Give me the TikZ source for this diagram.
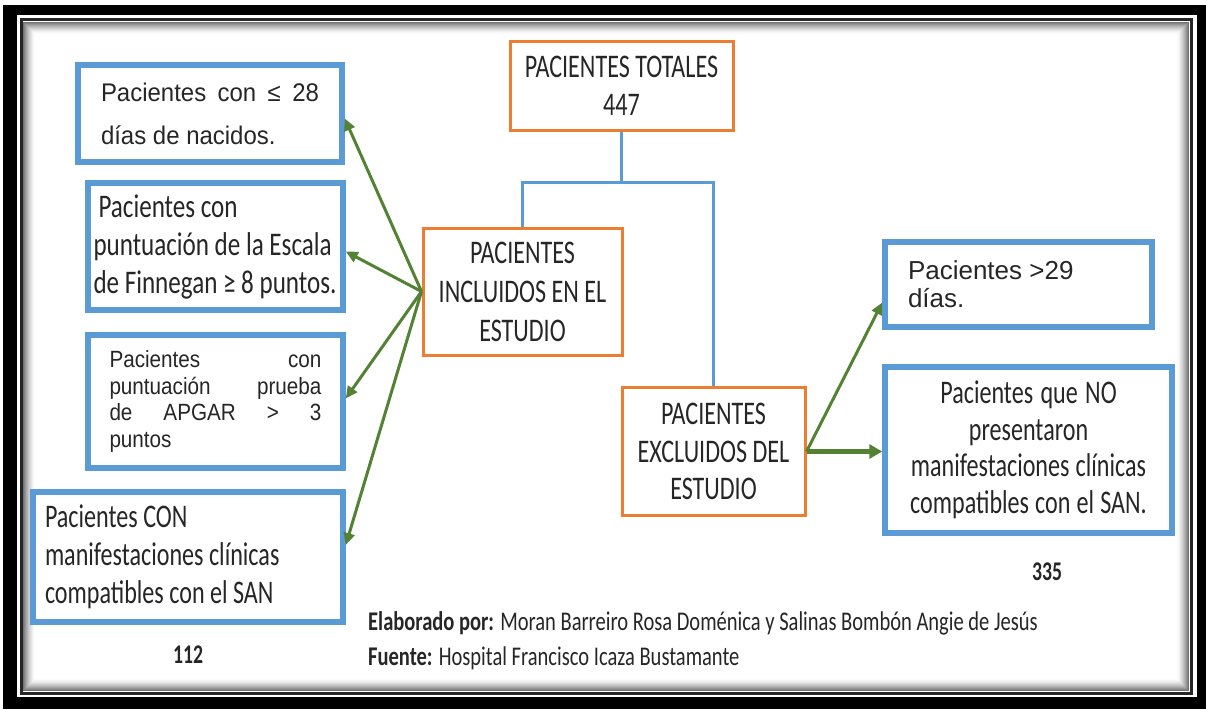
\documentclass[tikz,border=0pt]{standalone}
\usepackage{fontspec}
\setmainfont{Carlito}
\newfontfamily\fcal[FakeStretch=0.73]{Carlito}
\newfontfamily\fcalW[FakeStretch=0.76]{Carlito}
\newfontfamily\ffoot[FakeStretch=0.76]{Carlito}
\newfontfamily\fariA[FakeStretch=0.94]{Liberation Sans}
\newfontfamily\fariB[FakeStretch=0.88]{Liberation Sans}
\newfontfamily\fariC{Liberation Sans}
\usetikzlibrary{arrows.meta}
\definecolor{cblue}{RGB}{91,155,213}
\definecolor{corange}{RGB}{237,125,49}
\definecolor{cgreen}{RGB}{84,130,53}
\definecolor{ctext}{RGB}{38,38,38}
\newcommand\jline[2]{\leavevmode\hbox to #1{#2}}
\tikzset{
  nsp/.style={execute at begin node={\spaceskip=0pt\xspaceskip=0pt\relax}},
  bluebox/.style={draw=cblue, line width=5.5pt, fill=white, inner sep=0pt, text=ctext, nsp},
  orbox/.style={draw=corange, line width=3pt, fill=white, inner sep=0pt, text=ctext, align=center, nsp,
    font=\fcal\fontsize{33}{38}\selectfont},
  bline/.style={draw=cblue, line width=3pt},
  garrow/.style={draw=cgreen, line width=3pt, -{Triangle[length=12pt,width=11pt]}},
  garrowb/.style={draw=cgreen, line width=5pt, -{Triangle[length=13pt,width=14pt]}},
  lbl/.style={text=ctext, inner sep=0pt},
}
\begin{document}
\begin{tikzpicture}[x=1pt,y=-1pt]
\useasboundingbox (0,0) rectangle (1206,709);
% frame
\fill[black] (3,5) rectangle (1206,709);
\fill[white] (17,15) rectangle (1197,697);
\draw[line width=3pt, black!85] (21,20) rectangle (1191,693);
\foreach \i in {0,...,11}{
  \pgfmathsetmacro\g{int(55*(1-\i/12)^1.5)}
  \draw[line width=1.1pt, black!\g] (23.5+\i,22.5+\i) rectangle (1188.5-\i,690.5-\i);
}
% top
\node[orbox, minimum width=223pt, minimum height=88pt] (tot) at (621.5,86) {PACIENTES TOTALES\\447};
\node[orbox, minimum width=199pt, minimum height=127pt, font=\fcal\fontsize{33}{39}\selectfont] (inc) at (522.5,291.5) {PACIENTES\\INCLUIDOS EN EL\\ESTUDIO};
\node[orbox, minimum width=183pt, minimum height=128pt, font=\fcal\fontsize{33}{37.5}\selectfont] (exc) at (713.5,451.5) {PACIENTES\\EXCLUIDOS DEL\\ESTUDIO};
\coordinate (bus) at (0,182);
\draw[bline] (tot.south) -- (tot.south |- bus);
\draw[bline] (inc.north) -- (inc.north |- bus) -- (exc.north |- bus) -- (exc.north);
% left boxes
\node[bluebox, minimum width=264pt, minimum height=97pt, text width=218pt, align=left,
  font=\fariA\fontsize{25.5}{43}\selectfont] (b1) at (210,113.5)
  {\jline{218pt}{Pacientes\hfill con\hfill ≤\hfill 28}\\días de nacidos.};
\node[bluebox, minimum width=255pt, minimum height=127pt, text width=244pt, align=left,
  font=\fcalW\fontsize{33}{38}\selectfont] (b2) at (215.5,246.5)
  {\hspace*{5pt}Pacientes con\\puntuación de la Escala\\de Finnegan ≥ 8 puntos.};
\node[bluebox, minimum width=255pt, minimum height=133pt, text width=212pt, align=left,
  font=\fariB\fontsize{23.5}{26.7}\selectfont] (b3) at (215.5,401.5)
  {\jline{212pt}{Pacientes\hfill con}\\\jline{212pt}{puntuación\hfill prueba}\\\jline{212pt}{de\hfill APGAR\hfill >\hfill 3}\\puntos};
\node[bluebox, minimum width=310pt, minimum height=130pt, text width=286pt, align=left,
  font=\fcal\fontsize{33}{38}\selectfont] (b4) at (188,557)
  {Pacientes CON\\manifestaciones clínicas\\compatibles con el SAN};
% right boxes
\node[bluebox, minimum width=267pt, minimum height=85pt, text width=221pt, align=left,
  font=\fariC\fontsize{26}{28}\selectfont] (d29) at (1018.5,284.5)
  {Pacientes >29\\días.};
\node[bluebox, minimum width=287pt, minimum height=166pt, text width=270pt, align=center,
  font=\fcal\fontsize{33}{36.5}\selectfont] (no) at (1028.5,450)
  {Pacientes que NO\\presentaron\\manifestaciones clínicas\\compatibles con el SAN.};
% arrows
\draw[garrow] (inc.west) -- ([yshift=-5pt]b1.east);
\draw[garrow] (inc.west) -- ([yshift=-5pt]b2.east);
\draw[garrow] (inc.west) -- ([yshift=3pt]b3.east);
\draw[garrow] (inc.west) -- ([yshift=12pt]b4.east);
\draw[garrow] (exc.east) -- ([yshift=-18pt]d29.west);
\draw[garrowb] (exc.east) -- (exc.east -| no.west);
% labels
\node[lbl, font=\fcal\fontsize{27}{30}\selectfont\bfseries] (n112) at (188,655) {112};
\node[lbl, font=\fcal\fontsize{27}{30}\selectfont\bfseries] (n335) at (1047,572) {335};
\node[lbl, anchor=base west, font=\ffoot\fontsize{27}{30}\selectfont] (elab) at (368,630)
  {\textbf{Elaborado por:} Moran Barreiro Rosa Doménica y Salinas Bombón Angie de Jesús};
\node[lbl, anchor=base west, font=\ffoot\fontsize{27}{30}\selectfont] (fuen) at (368,665)
  {\textbf{Fuente:} Hospital Francisco Icaza Bustamante};
\end{tikzpicture}
\end{document}
